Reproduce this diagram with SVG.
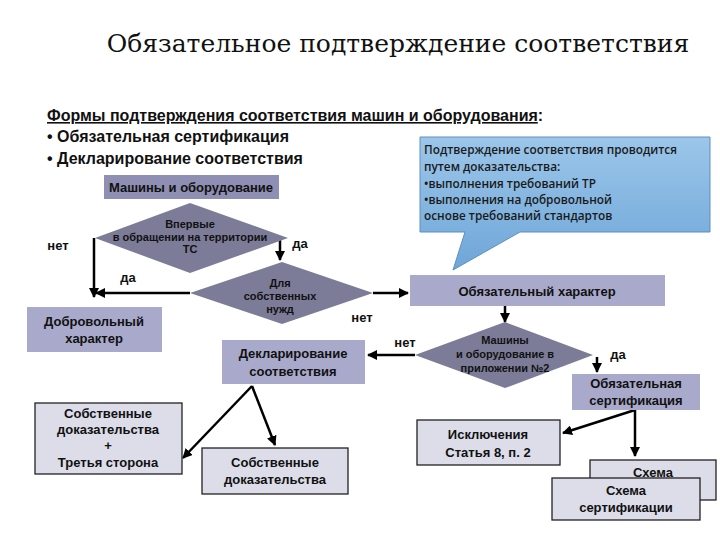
<svg xmlns="http://www.w3.org/2000/svg" width="720" height="540" viewBox="0 0 720 540">
<defs>
<marker id="ah" viewBox="0 0 10 10" refX="9" refY="5" markerWidth="4" markerHeight="4" orient="auto"><path d="M0,0 L10,5 L0,10 z" fill="#000"/></marker>
<linearGradient id="cg" x1="0" y1="0" x2="0" y2="1"><stop offset="0" stop-color="#9cc6ea"/><stop offset="1" stop-color="#6ea6d8"/></linearGradient>
<style>
text{font-family:"Liberation Sans",Arial,sans-serif;font-weight:bold;fill:#111;text-anchor:middle}
.t{font-size:13px}
.s{font-size:11px}
.dk{fill:#8e8fb2}
.md{fill:#a9aacb}
.dm{fill:#7c7c98}
.lt{fill:#dcdde9;stroke:#222;stroke-width:1.3}
.ln{stroke:#000;stroke-width:2.5;fill:none;marker-end:url(#ah)}
.l{text-anchor:start}
.c{font-family:"Open Sans",sans-serif;font-weight:600;font-size:11.8px;text-anchor:start;fill:#1a1a1a}
</style>
</defs>
<rect width="720" height="540" fill="#fff"/>
<text x="398" y="52" style="font-family:'DejaVu Serif','Liberation Serif',serif;font-weight:normal;font-size:25px">Обязательное  подтверждение соответствия</text>
<g id="forms">
<text x="47" y="121" class="l" style="font-size:16px"><tspan style="text-decoration:underline">Формы подтверждения соответствия машин и оборудования</tspan>:</text>
<text x="47" y="142" class="l" style="font-size:16px">• Обязательная сертификация</text>
<text x="47" y="164" class="l" style="font-size:16px">• Декларирование соответствия</text>
</g>
<g id="callout">
<path d="M420,137 H710 V232 H520 L453,270 L465,232 H420 Z" fill="url(#cg)" stroke="#5f8fbf" stroke-width="1"/>
<text x="424" y="154" class="c">Подтверждение соответствия проводится</text>
<text x="424" y="171" class="c">путем доказательства:</text>
<text x="424" y="188" class="c">•выполнения требований ТР</text>
<text x="424" y="204" class="c">•выполнения на добровольной</text>
<text x="424" y="220" class="c">основе требований стандартов</text>
</g>
<g id="connectors">
<path class="ln" d="M94,238 V297"/>
<path class="ln" d="M280,240 V260"/>
<path class="ln" d="M190,293 H96"/>
<path class="ln" d="M373,293 H408"/>
<path class="ln" d="M505,306 V322"/>
<path class="ln" d="M415,355 H368"/>
<path class="ln" d="M597,357 V372"/>
<path class="ln" d="M252,386 L183,458"/>
<path class="ln" d="M252,386 L275,445"/>
<path class="ln" d="M635,410 L563,433"/>
<path class="ln" d="M635,410 V456"/>
</g>
<g id="mo"><rect x="104" y="175" width="175" height="24" class="dk"/><text x="191" y="192" class="t">Машины и оборудование</text></g>
<g id="d1"><path d="M190,203 L288,238 L190,273 L95,238 Z" class="dm"/>
<text x="190" y="228" class="s">Впервые</text><text x="190" y="241" class="s">в обращении на территории</text><text x="190" y="253" class="s">ТС</text></g>
<g id="d2"><path d="M282,262 L373,293 L282,324 L190,293 Z" class="dm"/>
<text x="280" y="287" class="s">Для</text><text x="280" y="300" class="s">собственных</text><text x="280" y="313" class="s">нужд</text></g>
<g id="d3"><path d="M505,322 L593,355 L505,388 L415,355 Z" class="dm"/>
<text x="505" y="344" class="s">Машины</text><text x="505" y="358" class="s">и оборудование в</text><text x="505" y="372" class="s">приложении №2</text></g>
<g id="labels">
<text x="58" y="250" class="t">нет</text><text x="300" y="248" class="t">да</text>
<text x="128" y="282" class="t">да</text><text x="362" y="322" class="t">нет</text>
<text x="405" y="347" class="t">нет</text><text x="618" y="359" class="t">да</text>
</g>
<g id="dobr"><rect x="27" y="307" width="135" height="45" class="md"/><text x="94" y="326" class="t">Добровольный</text><text x="94" y="343" class="t">характер</text></g>
<g id="obh"><rect x="410" y="275" width="255" height="31" class="md"/><text x="537" y="296" class="t">Обязательный характер</text></g>
<g id="decl"><rect x="222" y="340" width="143" height="44" class="md"/><text x="293" y="358" class="t">Декларирование</text><text x="293" y="376" class="t">соответствия</text></g>
<g id="obs"><rect x="572" y="374" width="128" height="36" class="md"/><text x="636" y="388" class="t">Обязательная</text><text x="636" y="405" class="t">сертификация</text></g>
<g id="sob3"><rect x="35" y="403" width="147" height="71" class="lt"/><text x="108" y="418" class="t">Собственные</text><text x="108" y="434" class="t">доказательства</text><text x="108" y="450" class="t">+</text><text x="108" y="467" class="t">Третья сторона</text></g>
<g id="sob"><rect x="202" y="448" width="146" height="46" class="lt"/><text x="275" y="467" class="t">Собственные</text><text x="275" y="484" class="t">доказательства</text></g>
<g id="iskl"><rect x="417" y="420" width="143" height="45" class="lt"/><text x="488" y="439" class="t">Исключения</text><text x="488" y="457" class="t">Статья 8, п. 2</text></g>
<g id="sh1"><rect x="590" y="460" width="126" height="40" class="lt"/><text x="653" y="477" class="t">Схема</text></g>
<g id="sh2"><rect x="552" y="478" width="148" height="42" class="lt"/><text x="626" y="495" class="t">Схема</text><text x="626" y="512" class="t">сертификации</text></g>
</svg>
